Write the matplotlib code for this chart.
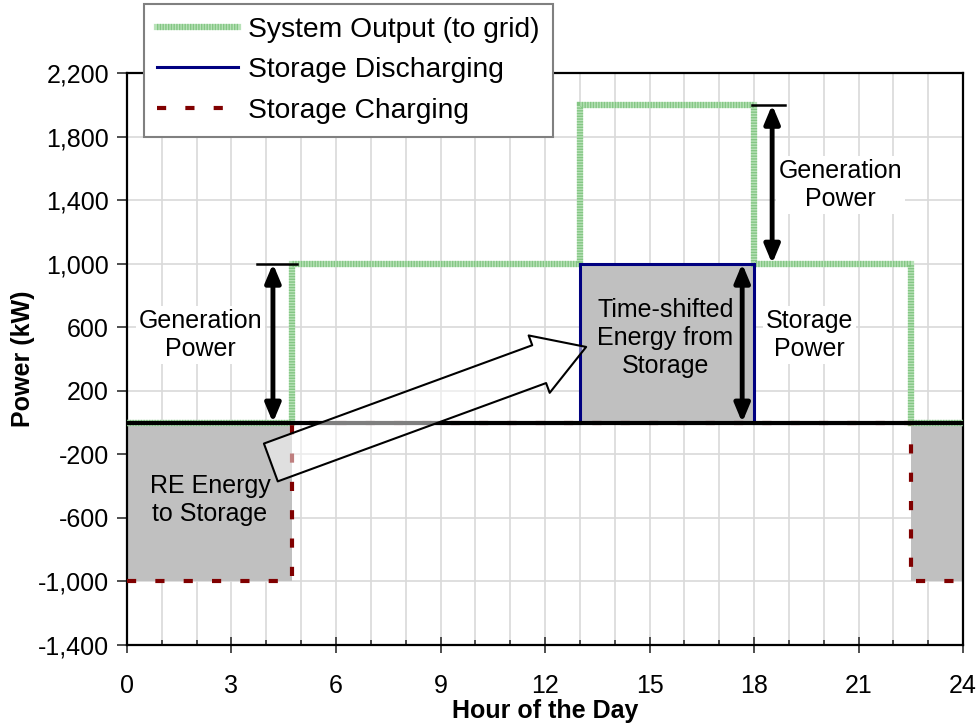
import matplotlib
matplotlib.use("Agg")
import matplotlib.pyplot as plt
from matplotlib.patches import FancyArrowPatch
from matplotlib.legend_handler import HandlerTuple
from matplotlib.ticker import FuncFormatter, MultipleLocator

plt.rcParams['font.family'] = ['Liberation Sans', 'DejaVu Sans']

# Stundengrenzen der Stufen und Leistungen (kW)
edges = [0, 4.75, 13, 18, 22.5, 24]
system_output = [0, 1000, 2000, 1000, 0]
discharging = [0, 0, 1000, 0, 0]
charging = [-1000, 0, 0, 0, -1000]

x_ticks = list(range(0, 25, 3))
y_ticks = list(range(-1400, 2201, 400))

fig = plt.figure(figsize=(9.79, 7.25), dpi=100)
ax = fig.add_axes([0.1297, 0.1103, 0.854, 0.789])

# graue Flächen
ax.stairs(charging, edges, fill=True, baseline=0, color='#c0c0c0', zorder=1)
ax.stairs(discharging, edges, fill=True, baseline=0, color='#c0c0c0', zorder=1)

# Linien
green_base = ax.stairs(system_output, edges, baseline=None, color='#b8e2b8',
                       lw=4.5, zorder=3)
green_str = ax.stairs(system_output, edges, baseline=None, color='#84c684',
                      lw=4.5, ls=(0, (0.22, 0.22)), zorder=3)
navy = ax.stairs(discharging, edges, baseline=None, color='#000080', lw=2.2, zorder=3)
red = ax.stairs(charging, edges, baseline=None, color='#800000', lw=3,
                ls=(0, (2.2, 4.6)), zorder=3)
ax.axhline(0, color='black', lw=3, zorder=4)

# Achsen
ax.set_xlim(0, 24)
ax.set_ylim(-1400, 2200)
ax.set_xticks(x_ticks)
ax.xaxis.set_minor_locator(MultipleLocator(1))
ax.set_yticks(y_ticks)
ax.yaxis.set_major_formatter(FuncFormatter(lambda v, p: f"{v:,.0f}"))
ax.set_axisbelow(True)
ax.grid(which='both', axis='x', color='#d9d9d9', lw=1.2)
ax.grid(which='major', axis='y', color='#d9d9d9', lw=1.2)
for s in ax.spines.values():
    s.set_linewidth(1.6)
ax.tick_params(axis='x', which='major', direction='inout', length=11, width=1.3,
               color='#404040', labelsize=18, pad=15)
ax.tick_params(axis='x', which='minor', direction='in', length=3.6, width=1.3,
               color='#404040')
ax.tick_params(axis='y', direction='out', length=7, width=1.3, color='#404040',
               labelsize=18, pad=6)
ax.set_xlabel('Hour of the Day', fontsize=18, fontweight='bold', labelpad=1)
ax.set_ylabel('Power (kW)', fontsize=18, fontweight='bold', labelpad=2)

# Doppelpfeile
dbl = dict(arrowstyle='<|-|>,head_length=0.55,head_width=0.23', mutation_scale=20,
           lw=3.5, color='black', shrinkA=0, shrinkB=0)
ax.annotate('', xy=(4.19, 0), xytext=(4.19, 1000), arrowprops=dbl, zorder=5)
ax.annotate('', xy=(18.52, 1000), xytext=(18.52, 2000), arrowprops=dbl, zorder=5)
ax.annotate('', xy=(17.66, 0), xytext=(17.66, 1000), arrowprops=dbl, zorder=5)
ax.plot([3.73, 4.88], [1000, 1000], color='black', lw=1.8, zorder=5)
ax.plot([17.95, 18.9], [2000, 2000], color='black', lw=1.8, zorder=5)

# großer Hohlpfeil
big = FancyArrowPatch((4.13, -251), (13.18, 476),
                      arrowstyle='simple,head_length=36,head_width=44,tail_width=29',
                      mutation_scale=1, shrinkA=0, shrinkB=0,
                      facecolor=(1, 1, 1, 0.5), edgecolor='black', lw=1.5, zorder=6)
ax.add_patch(big)

# Beschriftungen
wbox = dict(facecolor='white', edgecolor='none', pad=2)
ax.text(2.1, 552, 'Generation\nPower', fontsize=18, ha='center', va='center',
        bbox=wbox, zorder=5)
ax.text(20.47, 1495, 'Generation\nPower', fontsize=18, ha='center', va='center',
        bbox=wbox, zorder=5)
ax.text(19.6, 552, 'Storage\nPower', fontsize=18, ha='center', va='center',
        bbox=wbox, zorder=5)
ax.text(15.45, 531, 'Time-shifted\nEnergy from\nStorage', fontsize=18,
        ha='center', va='center', zorder=5)
ax.text(2.38, -488, 'RE Energy\nto Storage', fontsize=18, ha='center',
        va='center', zorder=5)

# Legende
leg = fig.legend([(green_base, green_str), navy, red],
                 ['System Output (to grid)', 'Storage Discharging', 'Storage Charging'],
                 handler_map={tuple: HandlerTuple(ndivide=1)},
                 loc='upper left', bbox_to_anchor=(144 / 979, 1 - 4 / 725),
                 bbox_transform=fig.transFigure, fontsize=20.3, frameon=True,
                 fancybox=False, edgecolor='#808080', framealpha=1,
                 handlelength=2.9, handletextpad=0.35, borderpad=0.45,
                 labelspacing=0.52, borderaxespad=0)
leg.get_frame().set_linewidth(1.5)

fig.savefig('out.png', dpi=100)
